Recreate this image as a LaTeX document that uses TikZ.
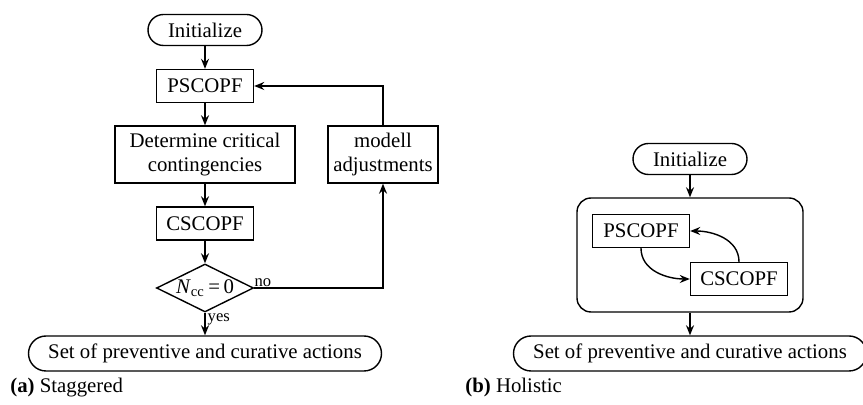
\documentclass[tikz,border=0pt]{standalone}
\usepackage{fontspec}
\setmainfont{Liberation Serif}
\usetikzlibrary{shapes.geometric,arrows.meta}
\begin{document}
\begin{tikzpicture}[x=0.5pt,y=-0.5pt,
  every node/.style={font=\fontsize{10.4}{12}\selectfont, inner sep=0pt},
  proc/.style={draw, line width=0.7pt, minimum width=48.5pt, minimum height=16.5pt},
  term/.style={draw, line width=0.7pt, rounded corners=7.75pt, minimum height=15.5pt},
  lbl/.style={font=\fontsize{8.3}{9}\selectfont},
  arr/.style={line width=0.7pt, -{Stealth[length=5pt,width=4pt]}},
  ln/.style={line width=0.7pt}]
\useasboundingbox (0,0) rectangle (863,405);
% (a) staggered
\node[term, minimum width=57pt] (init1) at (205,30) {Initialize};
\node[proc] (p1) at (205,86) {PSCOPF};
\node[proc, minimum width=90pt, minimum height=28.5pt, align=center] (det) at (205,154.5) {Determine critical\\contingencies};
\node[proc, minimum width=55pt, minimum height=28.5pt, align=center] (mod) at (383,154.5) {modell\\adjustments};
\node[proc] (c1) at (205,223.5) {CSCOPF};
\node[draw, line width=0.7pt, shape=diamond, aspect=2, minimum width=48.5pt, minimum height=24pt] (dec) at (205,288) {\textit{N}\textsubscript{cc}\,=\,0};
\node[term, minimum width=176.5pt, minimum height=17.5pt, rounded corners=8.75pt] (set1) at (205,353.5) {Set of preventive and curative actions};
\coordinate (cr) at (383,288);
\coordinate (ct) at (383,86);
\draw[arr] (init1) -- (p1);
\draw[arr] (p1) -- (det);
\draw[arr] (det) -- (c1);
\draw[arr] (c1) -- (dec);
\draw[arr] (dec) -- node[lbl, anchor=west, xshift=1pt, pos=0.3] {yes} (set1);
\draw[arr] (dec.east) -- (cr) -- (mod.south);
\node[lbl, anchor=south west, yshift=0.5pt] at (dec.east) {no};
\draw[arr] (mod.north) -- (ct) -- (p1.east);
\node[anchor=west] (capa) at (10,388) {\textbf{(a)} Staggered};
% (b) holistic
\node[term, minimum width=57pt] (init2) at (690,159) {Initialize};
\node[draw, line width=0.7pt, rounded corners=7pt, minimum width=113pt, minimum height=57pt] (big) at (690,255) {};
\node[proc] (p2) at (641,231) {PSCOPF};
\node[proc] (c2) at (739,279) {CSCOPF};
\node[term, minimum width=176.5pt, minimum height=17.5pt, rounded corners=8.75pt] (set2) at (690,353.5) {Set of preventive and curative actions};
\draw[arr] (init2) -- (big);
\draw[arr] (big) -- (set2);
\draw[arr] (p2.south) to[out=-90,in=180] (c2.west);
\draw[arr] (c2.north) to[out=90,in=0] (p2.east);
\node[anchor=west] (capb) at (465,388) {\textbf{(b)} Holistic};
\end{tikzpicture}
\end{document}
